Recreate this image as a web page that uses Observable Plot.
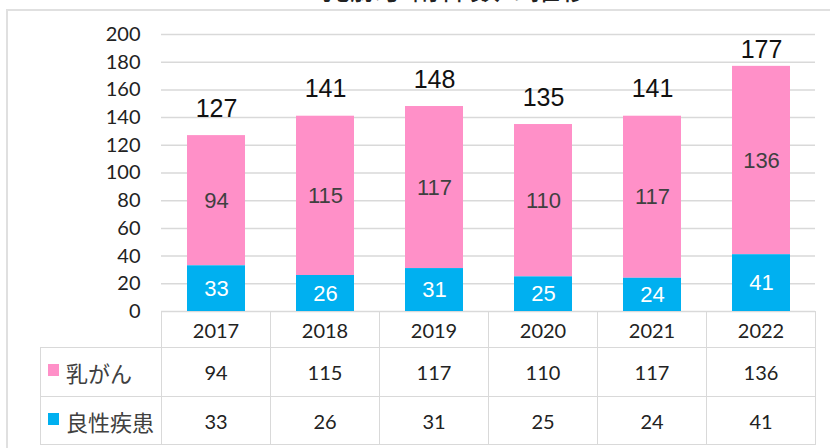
<!DOCTYPE html>
<html>
<head>
<meta charset="utf-8">
<script src="https://cdn.jsdelivr.net/npm/d3@7"></script>
<script src="https://cdn.jsdelivr.net/npm/@observablehq/plot@0.6"></script>
<style>
  html, body { margin: 0; padding: 0; background: #fff; }
  #wrap { position: relative; width: 830px; height: 448px; overflow: hidden; background: #fff; }
  #frame { position: absolute; left: 6px; top: 9px; right: -10px; bottom: -10px;
           border-top: 2px solid #e0e0e0; border-left: 2px solid #e0e0e0; }
  #title { position: absolute; left: 0; width: 910px; top: -32px; line-height: 36px; text-align: center;
           font-family: "Noto Sans CJK JP", sans-serif; font-size: 30px; color: #222; }
  #chart { position: absolute; left: 0; top: 0; }
  #tbl { position: absolute; left: 40px; top: 311px; border-collapse: collapse; table-layout: fixed; }
  #tbl td { border: 1.5px solid #d9d9d9; text-align: center; padding: 0;
            font-family: Lato, "Open Sans", sans-serif; font-size: 20px; color: #222; }
  #tbl td.empty { border-left: none; border-top: none; }
  #tbl td.lab { text-align: left; font-family: "Noto Sans CJK JP", sans-serif; font-size: 22px; color: #404040;
                padding-left: 7px; white-space: nowrap; }
  .sw { display: inline-block; width: 11px; height: 12px; margin-right: 7px; vertical-align: 6px; }
</style>
</head>
<body>
<div id="wrap">
  <div id="title"></div>
  <div id="frame"></div>
  <div id="chart"></div>
  <table id="tbl"></table>
</div>
<script>
const title = "乳腺手術件数の推移";
const years = ["2017", "2018", "2019", "2020", "2021", "2022"];
const seriesNames = ["乳がん", "良性疾患"];
const cancer = [94, 115, 117, 110, 117, 136];
const benign = [33, 26, 31, 25, 24, 41];
const seriesColors = ["#ff90c8", "#00b0f0"];
const yTicks = [0, 20, 40, 60, 80, 100, 120, 140, 160, 180, 200];

document.getElementById("title").textContent = title;

const seriesValues = [cancer, benign];
const data = [];
years.forEach((y, i) => {
  seriesNames.forEach((s, j) => data.push({year: y, series: s, value: seriesValues[j][i]}));
});
const totals = years.map((y, i) => ({year: y, total: cancer[i] + benign[i]}));
const stackOrder = [seriesNames[1], seriesNames[0]];

const chart = Plot.plot({
  width: 830,
  height: 320,
  marginTop: 34,
  marginBottom: 9,
  marginLeft: 161,
  marginRight: 15,
  style: {background: "transparent", overflow: "visible"},
  x: {domain: years, paddingInner: 0.47, paddingOuter: 0.235, axis: null},
  y: {domain: [0, 200], ticks: yTicks, label: null},
  color: {domain: seriesNames, range: seriesColors},
  marks: [
    Plot.gridY(yTicks, {stroke: "#d9d9d9", strokeOpacity: 1, strokeWidth: 1.5}),
    Plot.axisY(yTicks, {tickSize: 0, tickPadding: 21, fontSize: 20, fontFamily: "Lato", fill: "#222", label: null}),
    Plot.barY(data, {x: "year", y: "value", fill: "series", order: stackOrder}),
    Plot.text(data, Plot.stackY({x: "year", y: "value", z: "series", order: stackOrder, text: d => String(d.value),
      fill: d => d.series === seriesNames[0] ? "#404040" : "#ffffff",
      fontSize: 22, fontFamily: "Liberation Sans, Arial, sans-serif"})),
    Plot.text(totals, {x: "year", y: d => Math.min(d.total + 19.5, 188.5), text: d => String(d.total),
      fill: "#111", fontSize: 25, fontFamily: "Liberation Sans, Arial, sans-serif"})
  ]
});
document.getElementById("chart").appendChild(chart);

// data table below the chart
const tbl = document.getElementById("tbl");
const colW = [121].concat(years.map(() => 109));
const cg = document.createElement("colgroup");
colW.forEach(w => { const c = document.createElement("col"); c.style.width = w + "px"; cg.appendChild(c); });
tbl.appendChild(cg);
tbl.style.width = colW.reduce((a, b) => a + b, 0) + "px";

const hr = document.createElement("tr");
hr.style.height = "36px";
const e = document.createElement("td"); e.className = "empty"; hr.appendChild(e);
years.forEach(y => { const td = document.createElement("td"); td.textContent = y; hr.appendChild(td); });
tbl.appendChild(hr);

const rowH = [49, 48];
seriesNames.forEach((s, j) => {
  const tr = document.createElement("tr");
  tr.style.height = rowH[j] + "px";
  const lab = document.createElement("td"); lab.className = "lab";
  const sw = document.createElement("span"); sw.className = "sw"; sw.style.background = seriesColors[j];
  lab.appendChild(sw); lab.appendChild(document.createTextNode(s));
  tr.appendChild(lab);
  seriesValues[j].forEach(v => { const td = document.createElement("td"); td.textContent = v; tr.appendChild(td); });
  tbl.appendChild(tr);
});
</script>
</body>
</html>
